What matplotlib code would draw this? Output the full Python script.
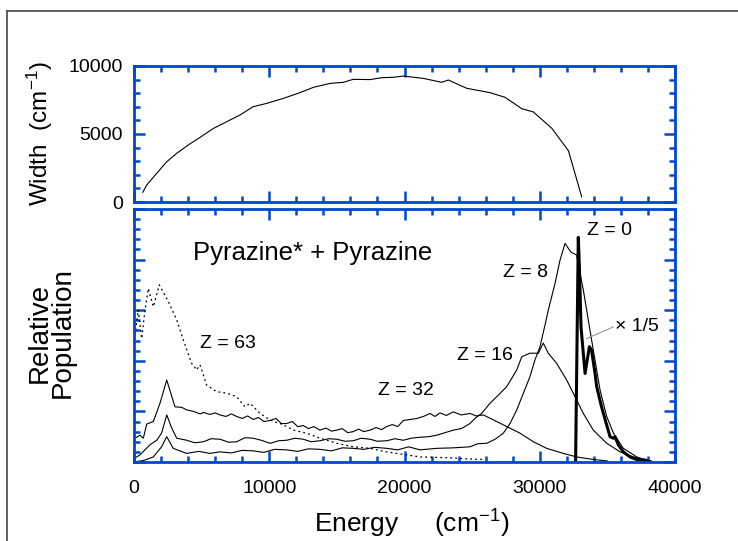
import matplotlib.pyplot as plt
from matplotlib.lines import Line2D
from matplotlib.ticker import MultipleLocator, NullFormatter

plt.rcParams["font.family"] = ["Liberation Sans", "DejaVu Sans"]
plt.rcParams["mathtext.default"] = "regular"

BLUE = "#0047d0"

# --- top panel: width vs energy ---
width_energy = [650, 940, 1680, 2420, 3160, 4010, 4880, 5870, 6850, 7840, 8820,
                9810, 11040, 12270, 13260, 14490, 15480, 16210, 17450, 18310,
                19170, 19910, 21390, 22750, 23240, 24600, 26320, 27430, 28670,
                29530, 30890, 32120, 33100]
width_value = [710, 1250, 2110, 2960, 3580, 4190, 4750, 5410, 5900, 6400, 7010,
               7250, 7620, 8040, 8430, 8720, 8800, 9020, 9000, 9140,
               9170, 9260, 9090, 8800, 8970, 8360, 8040, 7700, 6860,
               6620, 5420, 3770, 390]

# --- bottom panel: relative population curves ---
z0_energy = [32650, 32850, 32930, 33050, 33350, 33670, 33830, 34090, 34210, 34570,
             34950, 35200, 35440, 35560, 35810, 36180, 36670, 37170, 38150]
z0_value = [0.0, 4.44, 3.86, 2.67, 1.75, 2.28, 2.21, 1.75, 1.49, 1.09,
            0.73, 0.50, 0.47, 0.50, 0.34, 0.20, 0.10, 0.05, 0.01]

z8_energy = [0, 700, 1430, 2040, 2420, 2900, 3890, 4800, 5600, 6360, 7200, 8000,
             8820, 9600, 10400, 11290, 12100, 12900, 13750, 14600, 15400, 16210,
             17000, 17800, 18680, 19500, 20300, 21150, 22380, 23610, 24840, 25400,
             26080, 26700, 27310, 27800, 28300, 28790, 29280, 29650, 30020, 30390,
             30630, 31130, 31500, 31870, 32300, 32720, 33220, 33960, 34460, 34950,
             35450, 36180, 37170, 38150]
z8_value = [0.0, 0.03, 0.10, 0.30, 0.50, 0.27, 0.17, 0.21, 0.17, 0.20, 0.18, 0.23,
            0.22, 0.19, 0.25, 0.24, 0.21, 0.26, 0.25, 0.22, 0.28, 0.27,
            0.25, 0.29, 0.27, 0.24, 0.30, 0.24, 0.27, 0.28, 0.30, 0.36,
            0.37, 0.45, 0.57, 0.76, 1.03, 1.36, 1.69, 2.02, 2.28, 2.71,
            3.00, 3.53, 3.99, 4.32, 4.15, 4.09, 3.40, 2.21, 1.42, 0.90,
            0.57, 0.27, 0.10, 0.0]

z16_energy = [0, 440, 1180, 1680, 2040, 2420, 2790, 3160, 3890, 4500, 5130, 5700,
              6360, 7000, 7590, 8200, 8820, 9400, 10060, 10700, 11290, 11900, 12520,
              13100, 13750, 14400, 14990, 15600, 16210, 16800, 17450, 18000, 18680,
              19300, 19910, 20500, 21150, 21800, 22380, 23000, 23610, 24200, 24840,
              25200, 25700, 26320, 26820, 27560, 28300, 28670, 29280, 29900, 30260,
              30630, 31250, 31990, 32610, 33220, 33960, 34950, 35940, 36920, 37910]
z16_value = [0.07, 0.14, 0.34, 0.43, 0.57, 0.93, 0.67, 0.47, 0.43, 0.38, 0.40, 0.46,
             0.45, 0.39, 0.40, 0.48, 0.47, 0.43, 0.37, 0.42, 0.43, 0.47, 0.45,
             0.40, 0.42, 0.46, 0.45, 0.41, 0.42, 0.47, 0.45, 0.41, 0.42,
             0.46, 0.43, 0.47, 0.49, 0.50, 0.53, 0.58, 0.63, 0.66, 0.76,
             0.86, 0.96, 1.16, 1.29, 1.49, 1.82, 2.08, 2.15, 2.15, 2.35,
             2.15, 1.95, 1.62, 1.29, 0.96, 0.63, 0.37, 0.20, 0.10, 0.05]

z32_energy = [70, 440, 690, 940, 1430, 1920, 2420, 3030, 3530, 3890, 4400, 4900,
              5130, 5600, 6000, 6360, 6800, 7200, 7590, 8000, 8400, 8820, 9200,
              9600, 10060, 10500, 10900, 11290, 11700, 12100, 12520, 12900, 13300,
              13750, 14200, 14600, 14990, 15400, 15800, 16210, 16600, 17000, 17450,
              17900, 18300, 18680, 19100, 19500, 19910, 20400, 20900, 21400, 21890,
              22250, 22620, 23100, 23610, 24200, 24840, 25300, 25830, 26820, 27560,
              28540, 29530, 30510, 31740, 32730, 33960, 35000]
z32_value = [0.47, 0.53, 0.47, 0.75, 0.80, 1.16, 1.62, 1.09, 1.08, 1.03, 1.00, 0.95,
             0.98, 0.94, 0.97, 0.93, 0.90, 0.95, 0.90, 0.86, 0.91, 0.84, 0.88,
             0.80, 0.82, 0.86, 0.76, 0.76, 0.80, 0.70, 0.72, 0.66, 0.70,
             0.63, 0.67, 0.61, 0.63, 0.66, 0.58, 0.60, 0.65, 0.60, 0.63,
             0.68, 0.64, 0.70, 0.74, 0.70, 0.82, 0.84, 0.86, 0.90, 0.96,
             0.90, 0.97, 0.92, 0.99, 0.93, 0.96, 0.91, 0.93, 0.80, 0.70,
             0.57, 0.40, 0.27, 0.17, 0.10, 0.05, 0.02]

z63_energy = [70, 320, 570, 810, 1060, 1430, 1870, 2540, 3160, 3650, 4260, 4630,
              4880, 5370, 6110, 6850, 7590, 8210, 8580, 9320, 10060, 10800, 11300,
              11780, 12270, 12770, 13750, 14990, 16210, 17450, 18680, 20160, 21150,
              22400, 23610, 24700, 25830]
z63_value = [2.51, 3.00, 2.44, 3.00, 3.43, 3.07, 3.50, 3.17, 2.81, 2.41, 1.95, 1.82,
             1.92, 1.52, 1.39, 1.36, 1.29, 1.09, 1.16, 0.96, 0.83, 0.76, 0.70,
             0.63, 0.60, 0.57, 0.47, 0.37, 0.30, 0.27, 0.20, 0.14, 0.10,
             0.09, 0.08, 0.06, 0.05]

curve_labels = ["Z = 0", "Z = 8", "Z = 16", "Z = 32", "Z = 63"]
label_energy = [33490, 27280, 23880, 18040, 4880]
label_value = [4.58, 3.74, 2.11, 1.42, 2.35]

fig = plt.figure(figsize=(7.38, 5.41), dpi=100)

# page frame (only the left and top edges are visible in the original)
fig.add_artist(Line2D([7 / 738, 7 / 738], [0, 1 - 11 / 541], transform=fig.transFigure,
                      color="#444444", lw=1.2))
fig.add_artist(Line2D([7 / 738, 1], [1 - 11 / 541, 1 - 11 / 541], transform=fig.transFigure,
                      color="#444444", lw=1.2))

ax_top = fig.add_axes([134 / 738, 1 - 202 / 541, 541 / 738, 136 / 541])
ax_bot = fig.add_axes([134 / 738, 1 - 462 / 541, 541 / 738, 253 / 541])


def style_axes(ax):
    for sp in ax.spines.values():
        sp.set_color(BLUE)
        sp.set_linewidth(2.0)
    ax.tick_params(which="both", direction="in", top=True, right=True,
                   color=BLUE, width=1.8, labelsize=14)
    ax.tick_params(axis="x", pad=13)
    ax.tick_params(axis="y", pad=8)
    ax.tick_params(which="major", length=8)
    ax.tick_params(which="minor", length=4)
    ax.set_xlim(0, 40000)
    ax.xaxis.set_major_locator(MultipleLocator(10000))
    ax.xaxis.set_minor_locator(MultipleLocator(2000))


style_axes(ax_top)
ax_top.plot(width_energy, width_value, color="black", lw=0.8)
ax_top.set_ylim(0, 10000)
ax_top.yaxis.set_major_locator(MultipleLocator(5000))
ax_top.yaxis.set_minor_locator(MultipleLocator(1000))
ax_top.xaxis.set_major_formatter(NullFormatter())

style_axes(ax_bot)
ax_bot.set_ylim(0, 5)
ax_bot.yaxis.set_major_locator(MultipleLocator(1))
ax_bot.yaxis.set_minor_locator(MultipleLocator(0.2))
ax_bot.yaxis.set_major_formatter(NullFormatter())

ax_bot.plot(z63_energy, z63_value, color="black", lw=0.9, ls=(0, (1.5, 2.5)))
ax_bot.plot(z32_energy, z32_value, color="black", lw=0.8)
ax_bot.plot(z16_energy, z16_value, color="black", lw=0.8)
ax_bot.plot(z8_energy, z8_value, color="black", lw=0.8)
ax_bot.plot(z0_energy, z0_value, color="black", lw=2.2)

for txt, ex, ey in zip(curve_labels, label_energy, label_value):
    ax_bot.text(ex, ey, txt, fontsize=14, va="center", ha="left")

ax_bot.text(4360, 4.13, "Pyrazine* + Pyrazine", fontsize=18.5, va="center", ha="left")

# scale note for the Z = 0 curve
ax_bot.plot([33470, 35440], [2.44, 2.67], color="#888888", lw=0.7)
ax_bot.text(35570, 2.67, "\u00d7 1/5", fontsize=14, va="center", ha="left")

# axis titles placed where they sit in the original
fig.text(40 / 738, 1 - 134 / 541, "Width  (cm$^{-1}$)", fontsize=17.5,
         rotation=90, ha="center", va="center")
fig.text(51 / 738, 1 - 333 / 541, "Relative\nPopulation", fontsize=20,
         rotation=90, ha="center", va="center", linespacing=0.85)
fig.text(412 / 738, 1 - 524 / 541, "Energy     (cm$^{-1}$)", fontsize=19,
         ha="center", va="center")

fig.savefig("out.png", dpi=100)
